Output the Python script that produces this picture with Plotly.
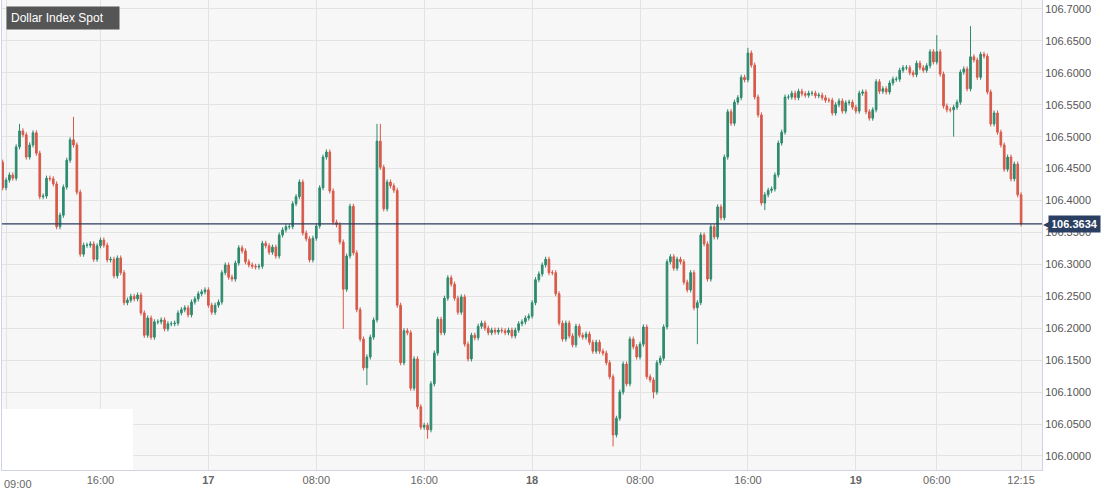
import pandas as pd
import plotly.graph_objects as go

first_open = 106.487
closes = [
 106.460,106.420,106.432,106.440,106.435,106.484,106.509,106.503,106.468,106.487,
 106.506,106.474,106.406,106.407,106.435,106.434,106.426,106.359,106.377,106.421,
 106.463,106.495,106.487,106.413,106.316,106.330,106.330,106.332,106.308,106.329,
 106.338,106.330,106.307,106.308,106.282,106.310,106.287,106.240,106.244,106.250,
 106.246,106.252,106.224,106.189,106.216,106.186,106.210,106.210,106.213,106.199,
 106.207,106.207,106.208,106.224,106.229,106.232,106.221,106.241,106.246,106.254,
 106.257,106.260,106.236,106.225,106.236,106.241,
 106.287,106.299,106.280,106.277,106.302,106.326,106.321,106.304,106.299,106.297,
 106.296,106.297,106.333,106.329,106.319,106.327,106.313,106.346,106.354,106.359,
 106.359,106.395,106.406,106.429,106.349,106.340,106.307,106.341,106.360,106.420,
 106.468,106.476,106.415,106.366,106.362,106.335,106.261,106.313,106.391,106.318,
 106.229,106.183,106.138,106.155,106.186,106.213,106.493,106.452,106.387,106.429,
 106.423,106.416,106.236,106.146,106.196,106.193,106.106,106.152,106.077,106.045,
 106.048,106.041,
 106.113,106.161,106.214,106.193,106.247,106.279,106.269,106.247,106.225,106.249,
 106.175,106.152,106.189,106.185,106.203,106.208,106.200,106.193,106.197,106.194,
 106.197,106.196,106.193,106.197,106.188,106.197,106.207,106.210,106.216,106.219,
 106.240,106.276,106.285,106.299,106.308,106.287,106.287,106.254,106.208,106.183,
 106.208,106.188,106.174,106.203,106.189,106.186,106.191,106.178,106.164,106.178,
 106.164,106.161,106.146,106.124,106.033,106.059,106.100,106.144,106.113,106.183,
 106.171,106.155,106.175,106.202,106.124,106.119,106.100,106.146,106.153,106.202,
 106.304,106.312,106.294,106.308,106.304,106.272,106.260,106.287,106.232,106.240,
 106.346,106.332,106.277,106.359,106.343,106.390,106.373,106.468,106.539,106.521,
 106.554,106.561,106.593,106.589,106.631,106.612,106.562,106.534,106.396,106.409,
 106.416,106.418,106.440,106.490,106.507,106.562,106.562,106.568,106.561,106.571,
 106.567,106.565,106.568,106.568,106.564,106.565,106.561,106.557,106.557,106.537,
 106.550,106.556,
 106.540,106.553,106.554,106.546,106.540,106.568,106.570,106.539,106.529,106.542,
 106.586,106.571,106.575,106.570,106.584,106.590,106.590,106.604,106.608,106.608,
 106.600,106.597,106.615,106.608,106.604,106.611,106.633,106.617,106.633,106.598,
 106.548,106.542,106.542,106.546,106.554,106.601,106.606,106.575,106.625,106.620,
 106.593,106.629,106.626,106.570,106.520,106.537,106.507,106.487,106.449,106.468,
 106.434,106.457,106.409,106.3634,
]
# notable wick extremes (index: value)
high_marks = {6: 106.520, 22: 106.531, 112: 106.520, 113: 106.520, 222: 106.639,
              223: 106.635, 278: 106.659, 288: 106.673}
low_marks = {102: 106.199, 109: 106.111, 124: 106.099, 127: 106.027, 182: 106.015,
             194: 106.090, 207: 106.175, 227: 106.385, 283: 106.500, 303: 106.360}
wick = 0.004

opens = [first_open] + closes[:-1]
highs, lows = [], []
for i, (o, c) in enumerate(zip(opens, closes)):
    highs.append(max(high_marks.get(i, 0), max(o, c) + wick))
    lows.append(min(low_marks.get(i, 999), min(o, c) - wick))

last_price = 106.3634
times = pd.date_range("2024-04-16 08:30", periods=len(closes), freq="15min")

tick_vals = ["2024-04-16 09:00", "2024-04-16 16:00", "2024-04-17 00:00", "2024-04-17 08:00",
             "2024-04-17 16:00", "2024-04-18 00:00", "2024-04-18 08:00", "2024-04-18 16:00",
             "2024-04-19 00:00", "2024-04-19 06:00", "2024-04-19 12:15"]
tick_text = ["", "16:00", "<b>17</b>", "08:00", "16:00", "<b>18</b>", "08:00", "16:00",
             "<b>19</b>", "06:00", "12:15"]

fig = go.Figure(go.Candlestick(
    x=times, open=opens, high=highs, low=lows, close=closes,
    increasing=dict(line=dict(color="#2d8a6e", width=1), fillcolor="#2d8a6e"),
    decreasing=dict(line=dict(color="#d85a4a", width=1), fillcolor="#d85a4a"),
    whiskerwidth=0, showlegend=False, hoverinfo="skip"))

fig.add_hline(y=last_price, line=dict(color="#2b3a5c", width=1.2))
fig.add_shape(type="rect", xref="paper", yref="paper", x0=0, x1=0.126, y0=0, y1=0.13,
              fillcolor="white", line_width=0, layer="above")
fig.add_annotation(xref="paper", yref="paper", x=0.004, y=0.987, xanchor="left", yanchor="top",
                   text="Dollar Index Spot", showarrow=False, bgcolor="#555555",
                   font=dict(color="white", size=12, family="Arial, Liberation Sans"),
                   borderpad=4, width=104, align="left")
fig.add_annotation(xref="paper", yref="paper", x=0.0, y=-0.012, xanchor="left", yanchor="top",
                   text="09:00", showarrow=False,
                   font=dict(color="#666", size=11, family="Arial, Liberation Sans"))
fig.add_annotation(xref="paper", x=1.0, y=last_price, xanchor="left", yanchor="middle",
                   text="<b>106.3634</b>", showarrow=False, bgcolor="#2b3f63",
                   font=dict(color="white", size=11, family="Arial, Liberation Sans"),
                   xshift=6, borderpad=2)
fig.add_annotation(xref="paper", x=1.0, y=last_price, xanchor="left", yanchor="middle",
                   text="◀", showarrow=False, font=dict(color="#2b3f63", size=12),
                   xshift=-1)

fig.update_layout(
    width=1118, height=497, margin=dict(l=2, r=76, t=0, b=27),
    paper_bgcolor="white", plot_bgcolor="#f7f7f7",
    font=dict(family="Arial, Liberation Sans", size=11, color="#666"),
    xaxis=dict(type="date", range=["2024-04-16 08:42", "2024-04-19 13:48"],
               tickvals=tick_vals, ticktext=tick_text, showgrid=True, gridcolor="#e3e3e3",
               rangeslider=dict(visible=False), showline=True, linecolor="#cfd3e3",
               mirror=True, ticks="", tickfont=dict(color="#666", size=11)),
    yaxis=dict(side="right", range=[105.978, 106.714], dtick=0.05, tickformat=".4f",
               showgrid=True, gridcolor="#e3e3e3", showline=True, linecolor="#cfd3e3",
               mirror=True, ticks="", zeroline=False, tickfont=dict(color="#555", size=11)),
)
fig.write_html("out.html", config={"displayModeBar": False},
               post_script="document.body.style.margin='0';window.dispatchEvent(new Event('resize'));")
